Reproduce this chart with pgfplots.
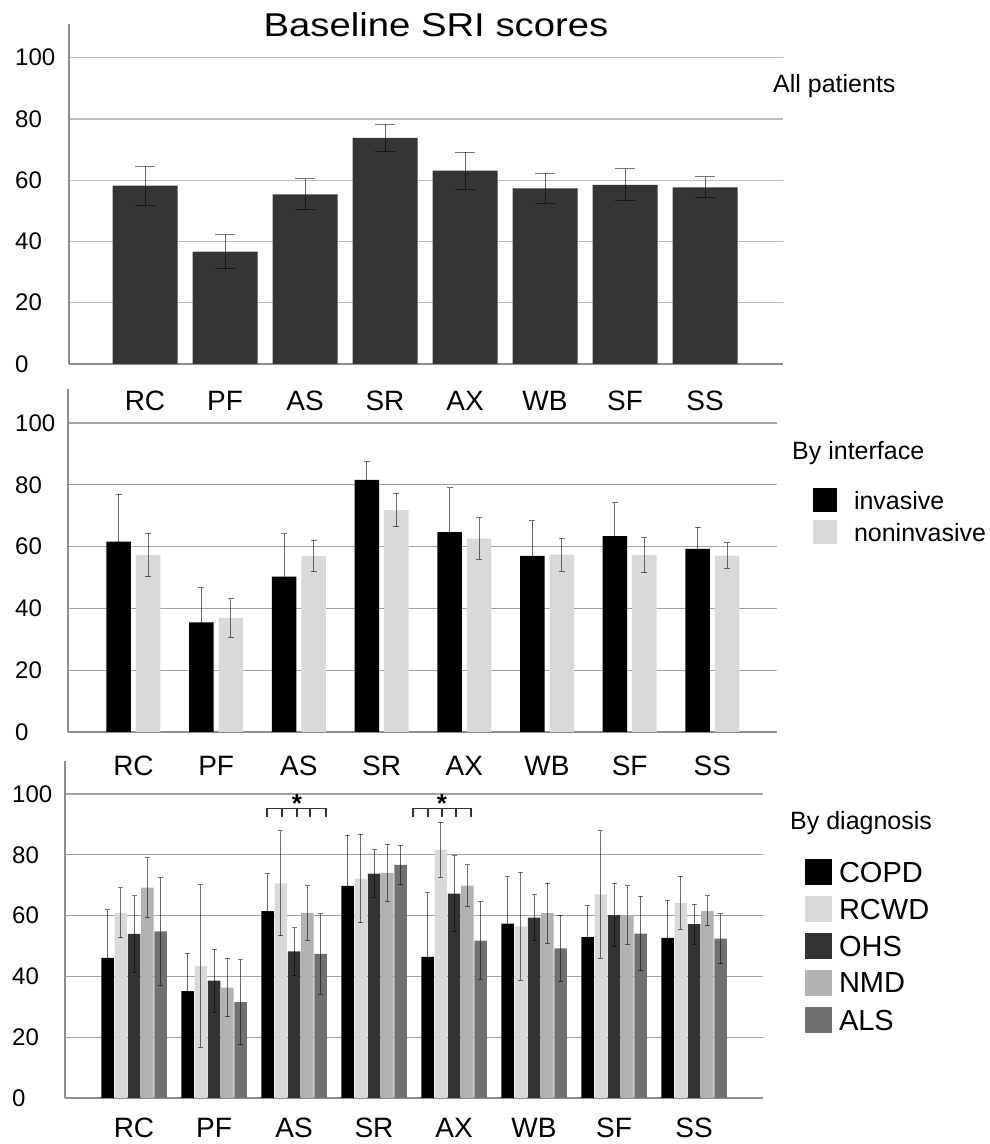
\documentclass[border=0pt]{standalone}
\usepackage{fontspec}
\setmainfont{Liberation Sans}
\usepackage{graphicx}
\usepackage{pgfplots}
\pgfplotsset{compat=1.18}
\definecolor{topbar}{RGB}{53,53,53}
\definecolor{lightbar}{RGB}{217,217,217}
\definecolor{ohs}{RGB}{51,51,51}
\definecolor{nmd}{RGB}{178,178,178}
\definecolor{als}{RGB}{112,112,112}
\definecolor{gridtop}{RGB}{190,190,190}
\definecolor{gridlow}{RGB}{160,160,160}
\definecolor{axisc}{RGB}{140,140,140}
\pgfplotsset{
  panel/.style={
    scale only axis, ybar,
    ymin=0, ymax=111,
    ytick={0,20,40,60,80,100},
    xtick={0,1,2,3,4,5,6,7},
    xticklabels={RC,PF,AS,SR,AX,WB,SF,SS},
    axis x line*=bottom, axis y line*=left,
    axis line style={draw=axisc, line width=1.3pt},
    ymajorgrids,
    major tick length=0pt,
    /pgf/number format/assume math mode=true,
    yticklabel style={anchor=west, inner sep=0pt, font=\fontsize{24}{24}\selectfont},
    xticklabel style={anchor=north, inner sep=0pt, font=\fontsize{28}{28}\selectfont},
  },
  eb/.style={
    error bars/y dir=both, error bars/y explicit,
    error bars/error bar style={line width=1pt, draw=black, draw opacity=0.55},
    error bars/error mark options={rotate=90, mark size=#1, line width=1pt, draw=black, draw opacity=0.55}},
}
\begin{document}
\begin{tikzpicture}
\useasboundingbox (0pt,0pt) rectangle (990pt,1144pt);

% ---------- Top panel: all patients ----------
\begin{axis}[panel, at={(69pt,780pt)}, anchor=south west, width=714pt, height=340pt,
  xmin=-0.95, xmax=7.975, bar width=65pt,
  grid style={draw=gridtop, line width=1.3pt},
  yticklabel style={xshift=-54pt},
  xticklabel style={yshift=-27pt}]
\addplot[fill=topbar, draw=none, bar shift=0pt, eb=10pt] coordinates {
 (0,58.2) +- (0,6.4)
 (1,36.7) +- (0,5.6)
 (2,55.4) +- (0,5.0)
 (3,73.8) +- (0,4.4)
 (4,63.1) +- (0,6.1)
 (5,57.3) +- (0,4.9)
 (6,58.5) +- (0,5.2)
 (7,57.7) +- (0,3.5)
};
\end{axis}

% ---------- Middle panel: by interface ----------
\begin{axis}[panel, at={(68pt,412pt)}, anchor=south west, width=709pt, height=343pt,
  xmin=-0.792, xmax=7.781, bar width=24.5pt,
  grid style={draw=gridlow, line width=1.1pt},
  yticklabel style={xshift=-53pt},
  xticklabel style={yshift=-24pt},
  legend image code/.code={\fill[#1] (0pt,-12pt) rectangle (24pt,12pt);},
  legend style={draw=none, fill=none, inner sep=0pt, outer sep=0pt,
    at={(axis description cs:1.0508,0.7114)}, anchor=north west,
    row sep=8.5pt, font=\fontsize{25}{25}\selectfont,
    nodes={inner sep=0pt, text depth=0pt},
    /tikz/every odd column/.append style={column sep=17pt}},
  legend cell align=left]
\addplot[fill=black, draw=none, bar shift=-14.75pt, eb=3pt] coordinates {
 (0,61.6) +- (0,15.3)
 (1,35.5) +- (0,11.2)
 (2,50.3) +- (0,13.9)
 (3,81.6) +- (0,5.9)
 (4,64.7) +- (0,14.3)
 (5,57.0) +- (0,11.3)
 (6,63.4) +- (0,10.8)
 (7,59.3) +- (0,6.9)
};
\addlegendentry{invasive}
\addplot[fill=lightbar, draw=none, bar shift=14.75pt, eb=3pt] coordinates {
 (0,57.3) +- (0,7.0)
 (1,36.9) +- (0,6.2)
 (2,56.9) +- (0,5.1)
 (3,71.8) +- (0,5.4)
 (4,62.6) +- (0,6.7)
 (5,57.4) +- (0,5.3)
 (6,57.3) +- (0,5.8)
 (7,57.1) +- (0,4.1)
};
\addlegendentry{noninvasive}
\end{axis}

% ---------- Bottom panel: by diagnosis ----------
\begin{axis}[panel, at={(65pt,46pt)}, anchor=south west, width=698pt, height=337.4pt,
  xmin=-0.8625, xmax=7.8625, bar width=12.5pt,
  grid style={draw=gridlow, line width=1.1pt},
  yticklabel style={xshift=-53pt},
  xticklabel style={yshift=-20pt},
  legend image code/.code={\fill[#1] (0pt,-13pt) rectangle (27pt,13pt);},
  legend style={draw=none, fill=none, inner sep=0pt, outer sep=0pt,
    at={(axis description cs:1.0602,0.7084)}, anchor=north west,
    row sep=11pt, font=\fontsize{29}{29}\selectfont,
    nodes={inner sep=0pt, text depth=0pt},
    /tikz/every odd column/.append style={column sep=7pt}},
  legend cell align=left]
\addplot[fill=black, draw=none, bar shift=-26.5pt, eb=2.5pt] coordinates {
 (0,46.1) +- (0,15.9)
 (1,35.2) +- (0,12.5)
 (2,61.5) +- (0,12.2)
 (3,69.8) +- (0,16.6)
 (4,46.4) +- (0,21.2)
 (5,57.4) +- (0,15.4)
 (6,52.9) +- (0,10.3)
 (7,52.7) +- (0,12.3)
};
\addlegendentry{COPD}
\addplot[fill=lightbar, draw=none, bar shift=-13.25pt, eb=2.5pt] coordinates {
 (0,60.9) +- (0,8.2)
 (1,43.4) +- (0,26.7)
 (2,70.6) +- (0,17.3)
 (3,72.2) +- (0,14.5)
 (4,81.7) +- (0,9.0)
 (5,56.5) +- (0,17.8)
 (6,67.0) +- (0,21.0)
 (7,64.2) +- (0,8.7)
};
\addlegendentry{RCWD}
\addplot[fill=ohs, draw=none, bar shift=0pt, eb=2.5pt] coordinates {
 (0,54.0) +- (0,12.6)
 (1,38.6) +- (0,10.4)
 (2,48.2) +- (0,7.8)
 (3,73.8) +- (0,7.8)
 (4,67.2) +- (0,12.5)
 (5,59.3) +- (0,7.6)
 (6,60.2) +- (0,10.4)
 (7,57.2) +- (0,6.6)
};
\addlegendentry{OHS}
\addplot[fill=nmd, draw=none, bar shift=13.25pt, eb=2.5pt] coordinates {
 (0,69.2) +- (0,9.8)
 (1,36.3) +- (0,9.6)
 (2,60.9) +- (0,9.0)
 (3,74.1) +- (0,9.3)
 (4,69.9) +- (0,6.8)
 (5,60.8) +- (0,9.9)
 (6,60.2) +- (0,9.7)
 (7,61.6) +- (0,5.0)
};
\addlegendentry{NMD}
\addplot[fill=als, draw=none, bar shift=26.5pt, eb=2.5pt] coordinates {
 (0,54.8) +- (0,17.7)
 (1,31.5) +- (0,14.0)
 (2,47.4) +- (0,13.2)
 (3,76.7) +- (0,6.5)
 (4,51.8) +- (0,12.8)
 (5,49.2) +- (0,11.0)
 (6,54.1) +- (0,12.2)
 (7,52.4) +- (0,8.2)
};
\addlegendentry{ALS}
% significance brackets
\draw[black!80, line width=1.1pt]
  (axis cs:1.6625,92.4) -- (axis cs:1.6625,95.1) -- (axis cs:2.4,95.1) -- (axis cs:2.4,92.4)
  (axis cs:1.85,95.1) -- (axis cs:1.85,92.4)
  (axis cs:2.0375,95.1) -- (axis cs:2.0375,92.4)
  (axis cs:2.2,95.1) -- (axis cs:2.2,92.4);
\draw[black!80, line width=1.1pt]
  (axis cs:3.4875,92.4) -- (axis cs:3.4875,95.1) -- (axis cs:4.2125,95.1) -- (axis cs:4.2125,92.4)
  (axis cs:3.675,95.1) -- (axis cs:3.675,92.4)
  (axis cs:3.85,95.1) -- (axis cs:3.85,92.4)
  (axis cs:4.025,95.1) -- (axis cs:4.025,92.4);
\node[inner sep=0pt, font=\fontsize{26}{26}\selectfont\bfseries] at (axis cs:2.0375,96.8) {*};
\node[inner sep=0pt, font=\fontsize{26}{26}\selectfont\bfseries] at (axis cs:3.85,96.8) {*};
\end{axis}

% ---------- Titles and panel labels ----------
\node[anchor=base, inner sep=0pt] at (436pt,1107pt)
  {\scalebox{1.16}[1]{\fontsize{33}{33}\selectfont Baseline SRI scores}};
\node[anchor=base west, inner sep=0pt, font=\fontsize{25}{25}\selectfont] at (773pt,1051pt) {All patients};
\node[anchor=base west, inner sep=0pt, font=\fontsize{25}{25}\selectfont] at (792pt,684pt) {By interface};
\node[anchor=base west, inner sep=0pt, font=\fontsize{25}{25}\selectfont] at (790pt,314pt) {By diagnosis};
\end{tikzpicture}
\end{document}
